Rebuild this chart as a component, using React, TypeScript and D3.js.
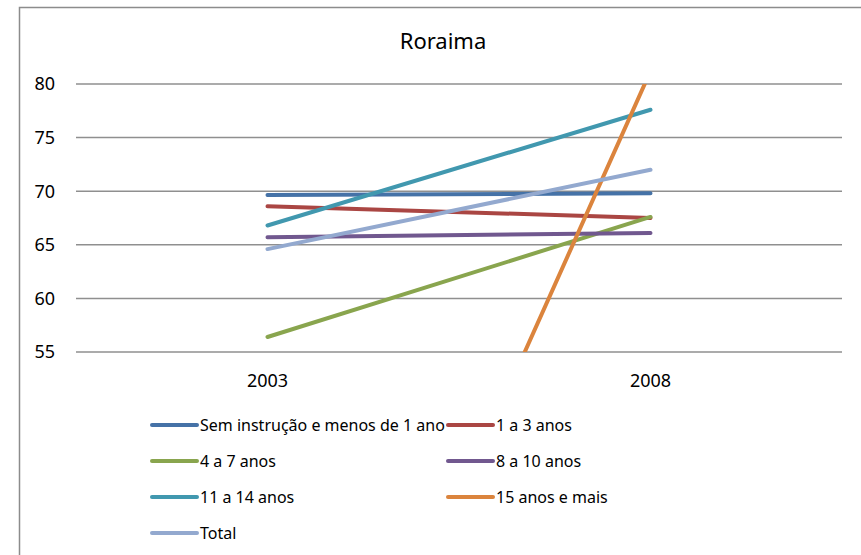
import { useMemo } from "react";
import * as d3 from "d3";

const years = ["2003", "2008"];
const yTicks = [55, 60, 65, 70, 75, 80];

const seriesNames = [
  "Sem instrução e menos de 1 ano",
  "1 a 3 anos",
  "4 a 7 anos",
  "8 a 10 anos",
  "11 a 14 anos",
  "15 anos e mais",
  "Total",
];
const semInstrucao = [69.65, 69.8];
const um3 = [68.6, 67.5];
const quatro7 = [56.4, 67.6];
const oito10 = [65.7, 66.1];
const onze14 = [66.8, 77.6];
const quinzeMais = [1.4, 81.2];
const total = [64.6, 72.0];

const seriesValues = [semInstrucao, um3, quatro7, oito10, onze14, quinzeMais, total];
const colors = ["#4572A7", "#AA4643", "#89A54E", "#71588F", "#4198AF", "#DB843D", "#93A9CF"];

const W = 861;
const H = 555;
const FONT = "'Noto Sans', 'Open Sans', sans-serif";

export default function App() {
  const plot = { left: 76, right: 842, top: 84, bottom: 352 };

  const x = useMemo(
    () => d3.scaleBand().domain(years).range([plot.left, plot.right]),
    []
  );
  const y = useMemo(
    () => d3.scaleLinear().domain([55, 80]).range([plot.bottom, plot.top]),
    []
  );

  const line = d3
    .line<number>()
    .x((_d, i) => (x(years[i]) ?? 0) + x.bandwidth() / 2)
    .y((d) => y(d));

  // legend: two columns, rows filled left to right
  const legendRows = [425, 461, 497, 533];
  const legendCols = [152, 448];

  return (
    <div style={{ position: "absolute", left: 0, top: 0 }}>
      <svg width={W} height={H} style={{ display: "block", fontFamily: FONT }}>
        <rect x={0} y={0} width={W} height={H} fill="#fff" />
        <path d={`M19.5,${H}V7.5H${W}`} fill="none" stroke="#8c8c8c" strokeWidth={1.5} />
        <text x={443} y={49} textAnchor="middle" fontSize={22} fill="#000">
          Roraima
        </text>

        <clipPath id="plotClip">
          <rect
            x={plot.left}
            y={plot.top}
            width={plot.right - plot.left}
            height={plot.bottom - plot.top}
          />
        </clipPath>

        {yTicks.map((t) => (
          <g key={t}>
            <line
              x1={plot.left}
              x2={plot.right}
              y1={y(t)}
              y2={y(t)}
              stroke="#8f8f8f"
              strokeWidth={1.5}
            />
            <text
              x={55}
              y={y(t)}
              dy="0.35em"
              textAnchor="end"
              fontSize={18}
              fill="#000"
            >
              {t}
            </text>
          </g>
        ))}

        {years.map((yr) => (
          <text
            key={yr}
            x={(x(yr) ?? 0) + x.bandwidth() / 2}
            y={381}
            dy="0.35em"
            textAnchor="middle"
            fontSize={18}
            fill="#000"
          >
            {yr}
          </text>
        ))}

        <g clipPath="url(#plotClip)">
          {seriesValues.map((vals, i) => (
            <path
              key={seriesNames[i]}
              d={line(vals) ?? ""}
              fill="none"
              stroke={colors[i]}
              strokeWidth={4}
              strokeLinecap="round"
            />
          ))}
        </g>

        {seriesNames.map((name, i) => {
          const lx = legendCols[i % 2];
          const ly = legendRows[Math.floor(i / 2)];
          return (
            <g key={name}>
              <line
                x1={lx}
                x2={lx + 45}
                y1={ly}
                y2={ly}
                stroke={colors[i]}
                strokeWidth={4}
                strokeLinecap="round"
              />
              <text x={lx + 48} y={ly} dy="0.35em" fontSize={16} fill="#000">
                {name}
              </text>
            </g>
          );
        })}
      </svg>
    </div>
  );
}
